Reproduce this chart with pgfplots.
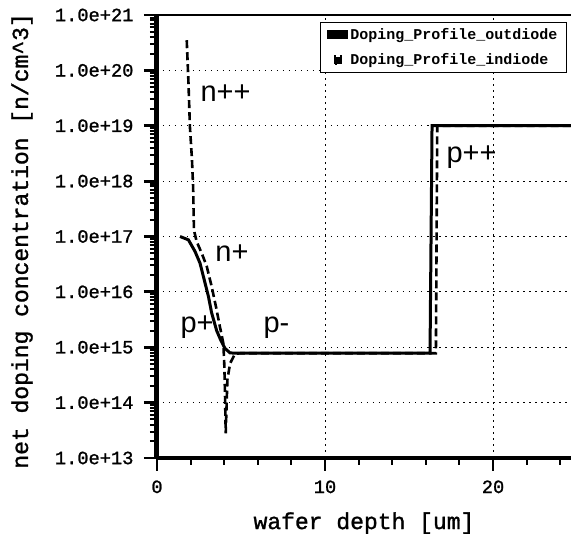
\documentclass[border=0pt]{standalone}
\usepackage{fontspec}
\setmainfont{Liberation Mono}
\newfontfamily\medmono[FakeBold=1.3]{Liberation Mono}
\newfontfamily\annfont{Liberation Sans}
\usepackage{pgfplots}
\pgfplotsset{compat=1.18}
\begin{document}
\begin{tikzpicture}
\begin{axis}[
  scale only axis, width=414pt, height=443pt,
  at={(0,0)}, anchor=south west,
  xmin=0, xmax=24.64, ymin=1e13, ymax=1e21, ymode=log,
  axis x line*=bottom, axis y line*=left, axis line style={-},
  x axis line style={line width=4pt},
  y axis line style={line width=5pt},
  xtick={0,10,20}, xticklabels={0,10,20},
  minor xtick={2,4,6,8,12,14,16,18,22,24},
  ytick={1e13,1e14,1e15,1e16,1e17,1e18,1e19,1e20,1e21},
  yticklabels={{1.0e+13},{1.0e+14},{1.0e+15},{1.0e+16},{1.0e+17},{1.0e+18},{1.0e+19},{1.0e+20},{1.0e+21}},
  minor ytick={2e13,3e13,4e13,5e13,6e13,7e13,8e13,9e13,
               2e14,3e14,4e14,5e14,6e14,7e14,8e14,9e14,
               2e15,3e15,4e15,5e15,6e15,7e15,8e15,9e15,
               2e16,3e16,4e16,5e16,6e16,7e16,8e16,9e16,
               2e17,3e17,4e17,5e17,6e17,7e17,8e17,9e17,
               2e18,3e18,4e18,5e18,6e18,7e18,8e18,9e18,
               2e19,3e19,4e19,5e19,6e19,7e19,8e19,9e19,
               2e20,3e20,4e20,5e20,6e20,7e20,8e20,9e20},
  xtick align=outside, ytick align=outside,
  major tick length=13pt, minor tick length=7pt,
  every major tick/.append style={black, line width=2.8pt},
  every minor tick/.append style={black, line width=2pt},
  tick label style={font=\medmono\fontsize{18.7}{20}\selectfont},
  yticklabel style={xshift=-7pt},
  xticklabel style={yshift=-6pt},
  grid=major,
  major grid style={black, line width=1pt, dash pattern=on 1.5pt off 4.5pt},
  xlabel={wafer depth [um]},
  ylabel={net doping concentration [n/cm\^{}3]},
  label style={font=\medmono\fontsize{23}{25}\selectfont},
  xlabel style={at={(axis description cs:0.5,-0.147)}, anchor=center},
  ylabel style={at={(axis description cs:-0.326,0.49)}, anchor=center},
  legend style={at={(0.99,0.985)}, anchor=north east, draw=black, line width=1pt,
    fill=white, font=\bfseries\fontsize{15}{17}\selectfont, row sep=9pt,
    inner xsep=7pt, inner ysep=4pt},
  legend cell align=left,
]
\addplot[black, line width=3pt, legend image code/.code={\fill[black] (0pt,-3pt) rectangle (18pt,3pt);}] coordinates {
 (1.37,1.0e17) (1.87,8.7e16) (2.26,5.4e16) (2.56,3.3e16) (2.76,1.9e16)
 (3.06,8.3e15) (3.25,4.2e15) (3.55,2.0e15) (3.79,1.35e15) (4.05,9.5e14)
 (4.35,7.9e14) (4.74,7.8e14) (16.25,7.8e14) (16.37,1e19) (25,1e19)
};
\addlegendentry{Doping\_Profile\_outdiode}
\addplot[black, line width=2.6pt, dash pattern=on 8pt off 4pt, legend image code/.code={\fill[black] (6pt,-3.5pt) rectangle (12pt,3.5pt);}] coordinates {
 (1.77,3.5e20) (1.87,6.3e19) (1.96,9.5e18) (2.08,2.5e18) (2.15,7.9e17)
 (2.2,1.3e17) (2.36,8.1e16) (2.66,5.0e16) (2.96,2.9e16) (3.25,1.26e16)
 (3.51,5.4e15) (3.75,2.3e15) (3.95,1.17e15) (4.01,4.5e14) (4.05,1.3e14)
 (4.09,2.8e13) (4.19,2.6e14) (4.35,5.1e14) (4.64,7.6e14) (5.0,7.8e14)
 (16.6,7.8e14) (16.68,1e19) (25,1e19)
};
\addlegendentry{Doping\_Profile\_indiode}
\draw[line width=1.2pt] (rel axis cs:0,1) -- (rel axis cs:1,1);
\node[anchor=base west, font=\annfont\fontsize{29}{30}\selectfont] at (axis cs:2.38,2.69e19) {n++};
\node[anchor=base west, font=\annfont\fontsize{29}{30}\selectfont] at (axis cs:3.27,3.47e16) {n+};
\node[anchor=base west, font=\annfont\fontsize{29}{30}\selectfont] at (axis cs:1.19,1.82e15) {p+};
\node[anchor=base west, font=\annfont\fontsize{29}{30}\selectfont] at (axis cs:6.13,1.82e15) {p-};
\node[anchor=base west, font=\annfont\fontsize{29}{30}\selectfont] at (axis cs:17.02,2.14e18) {p++};
\end{axis}
\pgfresetboundingbox
\useasboundingbox (-157pt,-87pt) rectangle (414pt,458pt);
\end{tikzpicture}
\end{document}
